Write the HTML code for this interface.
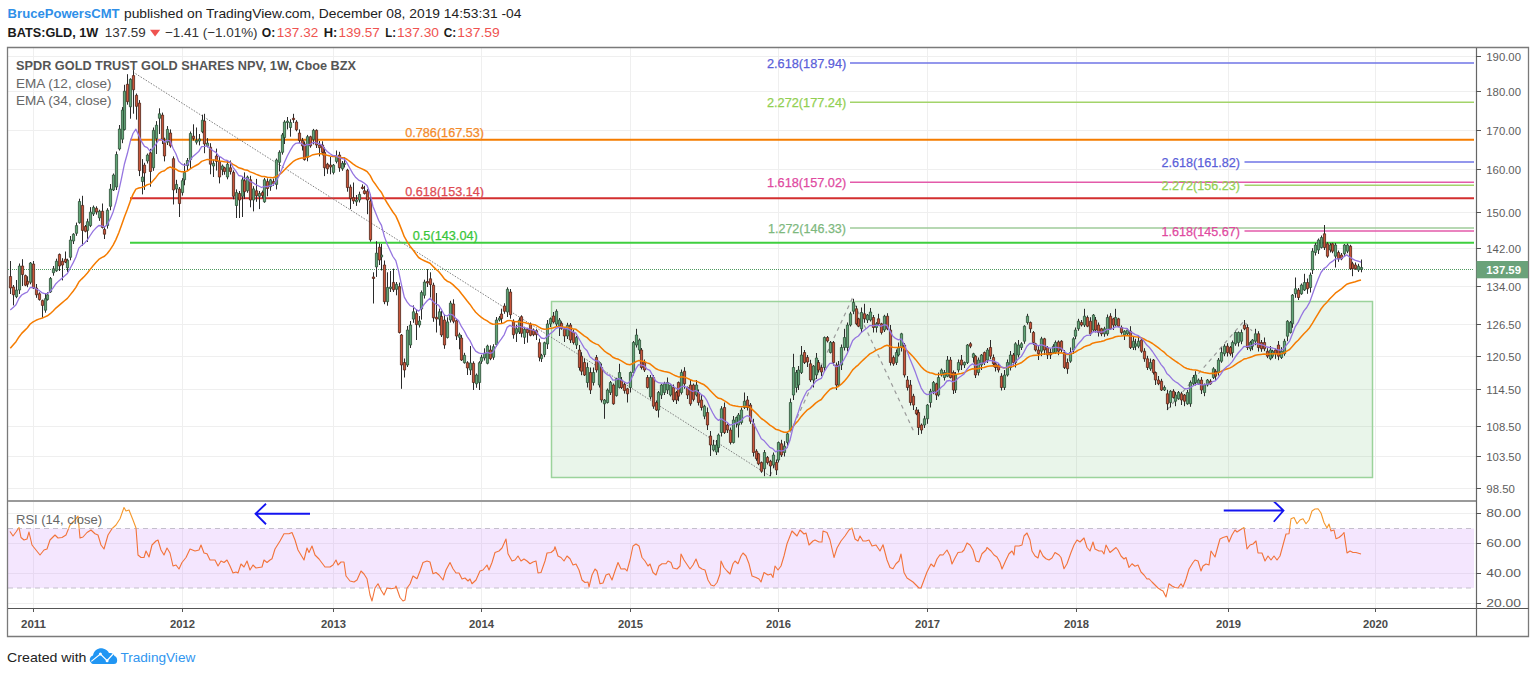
<!DOCTYPE html>
<html><head><meta charset="utf-8"><title>GLD chart</title>
<style>html,body{margin:0;padding:0;background:#fff;width:1536px;height:676px;overflow:hidden;position:relative;font-family:"Liberation Sans",sans-serif}</style>
</head><body>
<svg width="1536" height="676" viewBox="0 0 1536 676" style="position:absolute;left:0;top:0">
<defs><clipPath id="pc"><rect x="8" y="48" width="1468" height="452"/></clipPath><clipPath id="rc"><rect x="8" y="502" width="1468" height="106"/></clipPath></defs>
<rect width="1536" height="676" fill="#ffffff"/>
<path d="M8 56.5H1476M8 91.5H1476M8 130.5H1476M8 169.5H1476M8 212.5H1476M8 248.5H1476M8 286.5H1476M8 324.5H1476M8 356.5H1476M8 389.5H1476M8 426.5H1476M8 456.5H1476M8 488.5H1476M8 513.5H1476M8 543.5H1476M8 573.5H1476M8 603.5H1476M33.5 48V500M33.5 502V608M182.5 48V500M182.5 502V608M333.5 48V500M333.5 502V608M481.5 48V500M481.5 502V608M630.5 48V500M630.5 502V608M778.5 48V500M778.5 502V608M927.5 48V500M927.5 502V608M1076.5 48V500M1076.5 502V608M1228.5 48V500M1228.5 502V608M1375.5 48V500M1375.5 502V608" stroke="#efefef" stroke-width="1" fill="none"/>
<rect x="551.5" y="301.5" width="821" height="176" fill="rgba(76,175,80,0.12)" stroke="#9bd39b" stroke-width="1.5"/>
<rect x="8" y="528.5" width="1466" height="59.5" fill="rgba(200,130,250,0.2)"/>
<path d="M8 528.5H1474M8 588H1474" stroke="#c4bfcc" stroke-width="1" stroke-dasharray="5,4" fill="none"/>
<path d="M130 139.75H1474" stroke="#f57c00" stroke-width="2" fill="none"/>
<path d="M130 198.2H1474" stroke="#d32f2f" stroke-width="2" fill="none"/>
<path d="M130 242.8H1474" stroke="#3fcf3f" stroke-width="2" fill="none"/>
<path d="M850 63H1474" stroke="#6f74e6" stroke-width="1.5" fill="none"/>
<path d="M850 102.2H1474" stroke="#a3d46a" stroke-width="1.5" fill="none"/>
<path d="M850 182.2H1474" stroke="#e35aaa" stroke-width="1.5" fill="none"/>
<path d="M850 228H1474" stroke="#9fcb9a" stroke-width="1.5" fill="none"/>
<path d="M1244.5 162H1474" stroke="#6f74e6" stroke-width="1.5" fill="none"/>
<path d="M1244.5 185.2H1474" stroke="#a3d46a" stroke-width="1.5" fill="none"/>
<path d="M1244.5 231H1474" stroke="#e35aaa" stroke-width="1.5" fill="none"/>
<path d="M8 269.5H1474" stroke="#4f9a5f" stroke-width="1" stroke-dasharray="1,1" fill="none"/>
<path d="M133 72L770 476" stroke="#7d7d7d" stroke-width="1" stroke-dasharray="1.5,1.5" fill="none"/>
<path d="M770 476L852 299L914 432" stroke="#9a9a9a" stroke-width="1.2" stroke-dasharray="4,4" fill="none"/>
<path d="M1167 410L1244 321L1252 331" stroke="#9a9a9a" stroke-width="1.2" stroke-dasharray="4,4" fill="none"/>
<g clip-path="url(#pc)">
<path d="M10.5 261.0V294.0M13.5 285.0V305.4M16.5 280.0V298.2M19.5 263.5V294.0M22.5 259.2V286.0M25.5 274.6V286.2M27.5 276.3V287.2M30.5 262.0V284.3M33.5 261.0V289.0M36.5 284.0V297.8M39.5 292.3V300.6M42.5 299.6V317.9M45.5 294.0V312.7M47.5 292.3V300.6M50.5 277.0V292.9M53.5 266.0V275.7M56.5 258.7V271.8M59.5 253.5V271.0M62.5 258.2V280.4M65.5 251.5V263.1M67.5 258.7V271.9M70.5 236.0V260.3M73.5 233.2V244.0M76.5 222.6V235.8M79.5 198.7V223.7M82.5 195.8V245.8M85.5 225.0V232.3M87.5 218.7V242.0M90.5 207.1V227.1M93.5 205.5V216.0M96.5 206.3V214.6M99.5 209.7V220.9M102.5 203.5V228.5M104.5 226.4V239.0M107.5 208.2V228.6M110.5 184.0V210.3M113.5 173.5V191.0M116.5 151.5V190.0M119.5 125.0V150.5M122.5 107.1V143.2M124.5 84.8V130.5M127.5 74.2V104.7M130.5 78.3V118.7M133.5 70.1V113.7M136.5 93.5V119.6M139.5 100.1V176.1M142.5 159.1V194.4M144.5 162.8V189.9M147.5 153.5V163.5M150.5 148.8V186.7M153.5 127.5V170.8M156.5 121.1V154.0M159.5 108.3V134.0M162.5 112.6V144.0M164.5 137.7V161.4M167.5 126.1V145.0M170.5 129.4V147.7M173.5 156.4V204.5M176.5 179.8V193.1M179.5 187.0V217.0M182.5 178.2V195.6M184.5 163.3V185.3M187.5 158.0V170.1M190.5 131.5V168.8M193.5 124.3V140.5M196.5 127.5V144.5M199.5 134.0V145.4M202.5 114.7V133.2M204.5 113.8V153.2M207.5 138.1V147.4M210.5 143.2V174.3M213.5 159.6V177.0M216.5 148.6V170.6M219.5 156.4V183.4M222.5 164.5V175.2M224.5 166.8V174.7M227.5 160.5V179.3M230.5 160.5V174.5M233.5 170.4V199.3M236.5 189.4V218.0M239.5 191.0V218.0M242.5 176.6V217.0M244.5 172.4V199.0M247.5 175.6V192.8M250.5 175.8V207.3M253.5 186.2V211.4M256.5 178.9V201.8M259.5 191.0V209.1M262.5 190.6V198.4M264.5 177.9V202.8M267.5 178.4V196.3M270.5 178.8V190.8M273.5 178.6V185.9M276.5 158.5V189.4M279.5 150.3V171.5M282.5 133.0V154.6M284.5 120.2V144.0M287.5 117.0V129.4M290.5 119.3V136.7M293.5 113.8V122.9M296.5 120.2V131.3M299.5 129.4V143.1M302.5 137.9V150.5M304.5 141.5V160.6M307.5 134.9V161.3M310.5 135.7V147.7M313.5 128.9V144.4M316.5 129.4V148.0M319.5 141.0V156.4M322.5 141.3V155.3M324.5 147.3V176.1M327.5 162.8V173.8M330.5 157.0V174.3M333.5 164.0V174.4M336.5 150.5V163.4M339.5 151.8V171.8M342.5 161.0V170.8M344.5 157.3V167.5M347.5 168.8V191.7M350.5 184.6V209.1M353.5 182.5V203.9M356.5 195.0V205.9M359.5 191.7V202.5M362.5 184.4V189.5M364.5 185.8V194.5M367.5 189.2V214.2M370.5 194.4V241.7M373.5 272.3V303.5M376.5 241.2V276.9M379.5 243.5V265.0M381.5 244.0V270.5M384.5 260.5V304.2M387.5 272.3V305.7M390.5 271.0V292.0M393.5 268.7V292.0M396.5 282.0V295.3M399.5 282.6V333.5M401.5 334.0V388.8M404.5 358.5V377.5M407.5 326.0V367.0M410.5 321.0V348.0M413.5 305.4V322.8M416.5 309.6V340.0M419.5 316.0V327.5M421.5 290.5V319.6M424.5 279.7V298.5M427.5 269.1V287.0M430.5 272.3V297.6M433.5 282.7V321.8M436.5 293.0V332.5M439.5 308.6V325.6M441.5 310.9V337.0M444.5 314.5V348.8M447.5 317.3V338.5M450.5 300.8V322.5M453.5 299.3V323.3M456.5 319.2V340.0M459.5 332.7V349.3M461.5 335.0V361.0M464.5 352.8V363.7M467.5 361.2V375.0M470.5 346.0V375.0M473.5 361.3V390.0M476.5 373.5V387.8M479.5 361.2V390.0M481.5 354.8V363.8M484.5 348.3V360.5M487.5 344.7V364.3M490.5 345.3V360.2M493.5 344.2V359.8M496.5 317.0V346.7M499.5 316.0V321.5M501.5 308.7V323.7M504.5 303.3V313.8M507.5 287.3V317.0M510.5 289.0V318.7M513.5 319.3V338.7M516.5 324.7V342.0M519.5 317.5V334.0M521.5 315.3V337.3M524.5 326.8V344.0M527.5 327.8V342.7M530.5 322.5V336.3M533.5 328.5V336.2M536.5 329.2V340.0M539.5 338.7V361.3M541.5 353.8V362.0M544.5 341.7V357.2M547.5 320.0V349.0M550.5 317.5V327.0M553.5 312.0V323.5M556.5 309.3V326.0M559.5 318.0V336.0M561.5 321.3V329.7M564.5 327.8V342.0M567.5 322.8V339.0M570.5 323.0V343.0M573.5 329.5V344.5M576.5 336.0V349.0M579.5 345.0V370.5M581.5 352.2V375.2M584.5 358.5V376.0M587.5 362.5V387.5M590.5 367.5V394.0M593.5 367.5V385.5M596.5 355.0V372.5M599.5 361.5V387.5M601.5 363.5V402.5M604.5 399.0V418.8M607.5 388.5V403.5M610.5 381.0V395.0M613.5 383.5V404.8M616.5 377.8V396.6M619.5 363.8V388.5M621.5 377.0V389.0M624.5 382.4V393.6M627.5 387.8V402.5M630.5 371.5V392.5M633.5 341.0V375.5M636.5 328.8V347.5M639.5 338.5V354.0M641.5 348.0V369.5M644.5 359.5V372.0M647.5 375.0V388.5M650.5 375.0V399.4M653.5 375.0V408.8M656.5 400.5V411.0M658.5 391.0V417.5M661.5 384.0V399.0M664.5 381.8V395.0M667.5 377.5V394.0M670.5 384.0V396.5M673.5 384.5V402.0M676.5 391.0V404.0M678.5 381.5V401.2M681.5 369.5V394.5M684.5 367.2V388.8M687.5 386.5V399.0M690.5 380.0V405.8M693.5 383.5V401.4M696.5 380.0V396.5M698.5 389.5V405.5M701.5 395.0V410.5M704.5 404.8V419.2M707.5 407.5V430.0M710.5 431.0V456.0M713.5 440.0V451.5M716.5 440.0V455.0M718.5 433.5V452.5M721.5 406.2V436.5M724.5 402.5V434.0M727.5 423.5V433.0M730.5 427.5V444.5M733.5 416.0V443.5M736.5 416.5V427.5M738.5 413.0V437.5M741.5 407.5V424.5M744.5 392.5V409.0M747.5 396.0V410.5M750.5 403.0V423.8M753.5 418.8V456.5M756.5 449.2V460.8M758.5 452.8V465.2M761.5 461.5V472.8M764.5 450.0V476.2M767.5 456.0V464.5M770.5 459.8V476.2M773.5 452.5V468.0M776.5 459.5V475.0M778.5 441.5V462.5M781.5 439.8V457.0M784.5 441.2V456.5M787.5 432.8V447.5M790.5 398.5V431.0M793.5 353.8V400.0M796.5 370.0V392.5M798.5 366.0V390.0M801.5 346.0V374.0M804.5 350.0V364.0M807.5 355.0V367.0M810.5 359.8V382.0M813.5 365.0V387.5M816.5 353.0V379.0M818.5 360.0V372.5M821.5 365.0V376.0M824.5 336.5V371.5M827.5 336.0V342.5M830.5 341.0V353.5M833.5 341.0V365.5M836.5 362.5V390.0M838.5 361.0V386.5M841.5 344.5V370.0M844.5 328.8V350.5M847.5 322.5V351.5M850.5 311.8V326.5M853.5 298.8V314.2M856.5 305.8V325.2M858.5 317.8V327.2M861.5 307.5V332.8M864.5 303.8V322.8M867.5 314.0V323.0M870.5 308.0V321.5M873.5 315.0V332.5M876.5 322.2V332.5M878.5 313.8V325.2M881.5 322.8V334.5M884.5 314.8V332.0M887.5 313.2V330.2M890.5 325.0V365.5M893.5 355.5V365.8M896.5 349.5V365.0M898.5 342.5V356.5M901.5 332.8V351.5M904.5 343.0V377.5M907.5 376.0V390.5M910.5 380.0V405.5M913.5 393.8V410.0M916.5 407.0V415.2M918.5 409.5V435.0M921.5 423.5V433.8M924.5 415.8V428.0M927.5 404.0V423.8M930.5 388.8V407.5M933.5 381.0V394.2M936.5 382.8V400.0M938.5 372.5V396.5M941.5 368.5V376.5M944.5 370.0V380.5M947.5 356.0V377.2M950.5 357.0V378.5M953.5 370.5V394.0M955.5 372.0V393.0M958.5 359.5V372.5M961.5 355.0V370.0M964.5 361.5V368.0M967.5 344.0V364.0M970.5 342.2V348.2M973.5 352.8V362.5M975.5 355.2V378.0M978.5 357.5V375.5M981.5 354.0V370.0M984.5 351.5V365.0M987.5 348.0V363.0M990.5 340.0V359.2M993.5 354.5V366.8M995.5 362.2V371.5M998.5 363.0V372.5M1001.5 373.2V390.5M1004.5 370.0V390.0M1007.5 359.5V376.5M1010.5 351.0V370.5M1013.5 353.0V365.5M1015.5 342.2V367.5M1018.5 340.0V357.5M1021.5 342.2V350.0M1024.5 325.2V343.8M1027.5 313.8V324.5M1030.5 321.5V332.8M1033.5 331.0V345.0M1035.5 342.8V351.5M1038.5 346.0V360.0M1041.5 336.8V356.2M1044.5 337.8V355.0M1047.5 346.0V359.0M1050.5 348.5V359.0M1053.5 344.2V354.0M1055.5 340.5V354.0M1058.5 340.4V355.2M1061.5 340.2V352.5M1064.5 350.0V369.0M1067.5 358.5V373.8M1070.5 347.5V362.8M1073.5 337.2V354.0M1075.5 327.5V339.2M1078.5 318.8V330.8M1081.5 320.0V326.5M1084.5 308.8V327.0M1087.5 315.5V327.2M1090.5 317.2V335.8M1093.5 314.0V332.0M1095.5 317.0V332.5M1098.5 322.5V336.5M1101.5 327.8V336.2M1104.5 326.8V336.8M1107.5 314.5V335.8M1110.5 313.2V329.8M1113.5 317.8V330.0M1115.5 308.8V326.5M1118.5 317.8V327.2M1121.5 325.5V334.5M1124.5 330.2V340.0M1127.5 328.5V335.8M1130.5 326.2V349.0M1133.5 336.2V350.0M1135.5 338.8V350.2M1138.5 336.2V348.2M1141.5 337.5V352.8M1144.5 348.2V361.8M1147.5 355.8V370.0M1150.5 358.5V370.8M1153.5 359.0V374.5M1155.5 371.5V385.0M1158.5 376.0V385.2M1161.5 378.8V391.0M1164.5 385.5V391.0M1167.5 389.8V410.0M1170.5 390.2V407.5M1173.5 389.2V398.5M1175.5 392.0V406.2M1178.5 391.0V399.8M1181.5 391.8V405.0M1184.5 394.0V406.2M1187.5 390.0V404.8M1190.5 380.5V406.8M1193.5 375.0V385.8M1195.5 371.2V385.5M1198.5 378.5V384.8M1201.5 377.0V394.0M1204.5 383.5V396.2M1207.5 379.0V386.5M1210.5 379.2V384.8M1213.5 367.2V379.0M1215.5 369.2V380.2M1218.5 358.0V375.5M1221.5 347.5V362.8M1224.5 344.2V356.2M1227.5 343.2V356.5M1230.5 346.0V355.8M1232.5 340.5V357.5M1235.5 331.5V345.8M1238.5 331.5V346.5M1241.5 329.5V344.2M1244.5 320.0V330.2M1247.5 324.5V350.0M1250.5 341.0V351.2M1252.5 339.0V350.2M1255.5 328.8V345.2M1258.5 331.2V351.5M1261.5 340.0V351.8M1264.5 337.5V351.2M1267.5 348.2V358.2M1270.5 346.0V360.2M1272.5 349.8V358.2M1275.5 348.5V358.8M1278.5 341.0V360.2M1281.5 347.2V359.0M1284.5 338.8V355.8M1287.5 320.2V341.2M1290.5 321.0V333.5M1292.5 294.0V327.8M1295.5 277.5V297.8M1298.5 288.0V300.0M1301.5 283.5V294.8M1304.5 273.8V291.0M1307.5 278.5V293.8M1310.5 272.5V292.5M1312.5 248.2V274.0M1315.5 243.0V255.5M1318.5 238.5V254.0M1321.5 235.5V248.5M1324.5 225.0V250.0M1327.5 242.2V257.8M1330.5 243.0V252.5M1332.5 242.8V253.2M1335.5 243.0V267.5M1338.5 250.5V261.8M1341.5 253.0V260.2M1344.5 244.0V255.8M1347.5 243.5V253.2M1350.5 244.8V269.8M1352.5 261.8V276.2M1355.5 262.5V269.8M1358.5 263.8V272.0M1361.5 259.5V272.3" stroke="#2b2b2b" stroke-width="1" fill="none"/>
<path d="M15.4 290.0h2.2V296.7h-2.2ZM18.4 266.0h2.2V290.0h-2.2ZM29.4 263.0h2.2V282.3h-2.2ZM44.4 298.7h2.2V310.2h-2.2ZM46.4 294.8h2.2V299.6h-2.2ZM49.4 278.5h2.2V291.9h-2.2ZM52.4 268.8h2.2V272.7h-2.2ZM55.4 261.2h2.2V270.8h-2.2ZM66.4 260.2h2.2V267.9h-2.2ZM69.4 240.0h2.2V257.3h-2.2ZM72.4 234.2h2.2V241.0h-2.2ZM75.4 225.6h2.2V233.3h-2.2ZM78.4 201.5h2.2V222.7h-2.2ZM86.4 221.7h2.2V230.4h-2.2ZM89.4 212.1h2.2V225.6h-2.2ZM92.4 207.3h2.2V214.0h-2.2ZM98.4 211.2h2.2V217.9h-2.2ZM106.4 210.2h2.2V225.6h-2.2ZM109.4 189.0h2.2V206.3h-2.2ZM112.4 175.0h2.2V190.0h-2.2ZM115.4 154.5h2.2V187.0h-2.2ZM118.4 129.0h2.2V149.0h-2.2ZM121.4 110.1h2.2V139.2h-2.2ZM123.4 91.2h2.2V129.5h-2.2ZM129.4 79.3h2.2V106.8h-2.2ZM141.4 177.0h2.2V181.6h-2.2ZM146.4 155.0h2.2V161.0h-2.2ZM152.4 130.3h2.2V167.8h-2.2ZM155.4 125.2h2.2V138.5h-2.2ZM158.4 113.8h2.2V118.3h-2.2ZM166.4 129.4h2.2V142.2h-2.2ZM175.4 184.4h2.2V189.0h-2.2ZM181.4 180.7h2.2V192.6h-2.2ZM183.4 172.4h2.2V179.8h-2.2ZM186.4 160.5h2.2V165.6h-2.2ZM189.4 133.5h2.2V159.6h-2.2ZM195.4 140.4h2.2V142.2h-2.2ZM198.4 139.0h2.2V141.0h-2.2ZM201.4 120.2h2.2V131.7h-2.2ZM206.4 143.1h2.2V145.9h-2.2ZM212.4 163.3h2.2V166.0h-2.2ZM221.4 166.0h2.2V169.7h-2.2ZM226.4 164.2h2.2V177.0h-2.2ZM235.4 192.6h2.2V205.5h-2.2ZM241.4 179.8h2.2V196.3h-2.2ZM246.4 177.0h2.2V190.8h-2.2ZM252.4 188.9h2.2V200.0h-2.2ZM258.4 193.5h2.2V196.3h-2.2ZM263.4 179.8h2.2V201.8h-2.2ZM269.4 179.8h2.2V186.7h-2.2ZM275.4 160.0h2.2V184.4h-2.2ZM278.4 152.3h2.2V162.3h-2.2ZM281.4 134.9h2.2V152.3h-2.2ZM283.4 122.0h2.2V137.6h-2.2ZM286.4 121.1h2.2V122.5h-2.2ZM289.4 122.5h2.2V127.5h-2.2ZM306.4 136.7h2.2V157.3h-2.2ZM312.4 130.3h2.2V139.4h-2.2ZM332.4 165.1h2.2V172.4h-2.2ZM335.4 156.0h2.2V161.4h-2.2ZM341.4 163.3h2.2V168.8h-2.2ZM343.4 163.3h2.2V164.5h-2.2ZM355.4 200.0h2.2V201.8h-2.2ZM358.4 194.4h2.2V200.0h-2.2ZM375.4 253.1h2.2V266.9h-2.2ZM380.4 255.0h2.2V257.0h-2.2ZM386.4 287.5h2.2V301.7h-2.2ZM389.4 287.0h2.2V288.5h-2.2ZM395.4 284.3h2.2V289.3h-2.2ZM406.4 330.0h2.2V365.0h-2.2ZM409.4 325.0h2.2V345.0h-2.2ZM412.4 311.8h2.2V319.1h-2.2ZM418.4 321.0h2.2V325.0h-2.2ZM420.4 292.5h2.2V309.0h-2.2ZM423.4 282.0h2.2V295.3h-2.2ZM438.4 311.8h2.2V319.1h-2.2ZM446.4 321.9h2.2V337.5h-2.2ZM449.4 303.1h2.2V320.0h-2.2ZM458.4 334.7h2.2V337.3h-2.2ZM463.4 355.3h2.2V362.7h-2.2ZM469.4 363.0h2.2V370.0h-2.2ZM475.4 375.0h2.2V383.8h-2.2ZM478.4 362.7h2.2V382.5h-2.2ZM480.4 357.3h2.2V361.3h-2.2ZM483.4 353.3h2.2V358.0h-2.2ZM486.4 346.0h2.2V363.3h-2.2ZM492.4 346.7h2.2V357.3h-2.2ZM495.4 320.0h2.2V344.7h-2.2ZM498.4 318.0h2.2V320.0h-2.2ZM506.4 289.3h2.2V312.0h-2.2ZM515.4 328.7h2.2V333.3h-2.2ZM518.4 320.0h2.2V332.0h-2.2ZM523.4 329.3h2.2V337.3h-2.2ZM540.4 355.3h2.2V358.7h-2.2ZM543.4 342.7h2.2V354.7h-2.2ZM546.4 324.0h2.2V344.0h-2.2ZM549.4 318.7h2.2V324.0h-2.2ZM555.4 311.3h2.2V324.0h-2.2ZM558.4 320.0h2.2V326.0h-2.2ZM566.4 325.3h2.2V336.0h-2.2ZM575.4 337.5h2.2V345.0h-2.2ZM586.4 367.5h2.2V382.5h-2.2ZM592.4 372.5h2.2V382.5h-2.2ZM598.4 362.5h2.2V385.0h-2.2ZM603.4 400.0h2.2V403.8h-2.2ZM606.4 390.0h2.2V402.5h-2.2ZM609.4 382.5h2.2V392.5h-2.2ZM615.4 378.8h2.2V395.6h-2.2ZM618.4 372.5h2.2V387.5h-2.2ZM629.4 372.5h2.2V387.5h-2.2ZM632.4 342.5h2.2V372.5h-2.2ZM635.4 335.0h2.2V345.0h-2.2ZM638.4 340.0h2.2V350.0h-2.2ZM649.4 377.5h2.2V396.9h-2.2ZM657.4 392.5h2.2V410.0h-2.2ZM660.4 385.0h2.2V395.0h-2.2ZM663.4 383.8h2.2V392.5h-2.2ZM666.4 382.5h2.2V390.0h-2.2ZM669.4 385.0h2.2V395.0h-2.2ZM680.4 372.5h2.2V392.5h-2.2ZM695.4 385.0h2.2V395.0h-2.2ZM703.4 406.2h2.2V416.2h-2.2ZM712.4 445.0h2.2V450.0h-2.2ZM715.4 445.0h2.2V452.0h-2.2ZM717.4 435.0h2.2V447.5h-2.2ZM720.4 408.8h2.2V432.5h-2.2ZM732.4 420.0h2.2V442.5h-2.2ZM735.4 417.5h2.2V422.5h-2.2ZM737.4 415.0h2.2V425.0h-2.2ZM740.4 410.0h2.2V422.5h-2.2ZM743.4 401.2h2.2V407.5h-2.2ZM763.4 452.5h2.2V468.8h-2.2ZM772.4 455.0h2.2V465.0h-2.2ZM777.4 442.5h2.2V460.0h-2.2ZM783.4 446.2h2.2V452.5h-2.2ZM786.4 433.8h2.2V442.5h-2.2ZM789.4 402.5h2.2V430.0h-2.2ZM792.4 367.5h2.2V395.0h-2.2ZM795.4 372.5h2.2V387.5h-2.2ZM797.4 370.0h2.2V385.0h-2.2ZM800.4 355.0h2.2V372.5h-2.2ZM812.4 366.0h2.2V380.0h-2.2ZM815.4 358.0h2.2V375.0h-2.2ZM823.4 337.5h2.2V367.5h-2.2ZM829.4 342.5h2.2V352.5h-2.2ZM837.4 365.0h2.2V385.0h-2.2ZM840.4 347.5h2.2V365.0h-2.2ZM843.4 337.5h2.2V347.5h-2.2ZM846.4 325.0h2.2V347.5h-2.2ZM849.4 313.8h2.2V325.0h-2.2ZM852.4 302.5h2.2V311.2h-2.2ZM860.4 312.5h2.2V328.8h-2.2ZM866.4 315.0h2.2V320.0h-2.2ZM869.4 312.0h2.2V320.0h-2.2ZM875.4 323.8h2.2V327.5h-2.2ZM883.4 316.2h2.2V330.0h-2.2ZM895.4 352.5h2.2V362.5h-2.2ZM897.4 347.5h2.2V355.0h-2.2ZM900.4 333.8h2.2V347.5h-2.2ZM923.4 418.8h2.2V425.0h-2.2ZM926.4 405.0h2.2V418.8h-2.2ZM929.4 391.2h2.2V402.5h-2.2ZM932.4 382.5h2.2V391.2h-2.2ZM937.4 377.5h2.2V395.0h-2.2ZM940.4 370.0h2.2V375.0h-2.2ZM943.4 372.5h2.2V377.5h-2.2ZM946.4 360.0h2.2V376.2h-2.2ZM954.4 375.0h2.2V390.0h-2.2ZM957.4 362.5h2.2V370.0h-2.2ZM963.4 362.5h2.2V365.0h-2.2ZM966.4 345.0h2.2V362.5h-2.2ZM972.4 353.8h2.2V357.5h-2.2ZM977.4 360.0h2.2V372.5h-2.2ZM980.4 355.0h2.2V365.0h-2.2ZM986.4 350.0h2.2V360.0h-2.2ZM1003.4 375.0h2.2V387.5h-2.2ZM1006.4 362.5h2.2V375.0h-2.2ZM1009.4 355.0h2.2V367.5h-2.2ZM1014.4 343.8h2.2V362.5h-2.2ZM1017.4 345.0h2.2V355.0h-2.2ZM1020.4 343.8h2.2V347.5h-2.2ZM1023.4 326.2h2.2V341.2h-2.2ZM1026.4 316.2h2.2V322.5h-2.2ZM1040.4 338.8h2.2V351.2h-2.2ZM1052.4 346.2h2.2V352.5h-2.2ZM1054.4 342.5h2.2V352.5h-2.2ZM1069.4 352.5h2.2V361.2h-2.2ZM1072.4 338.8h2.2V350.0h-2.2ZM1074.4 330.0h2.2V336.2h-2.2ZM1077.4 321.2h2.2V328.8h-2.2ZM1083.4 316.2h2.2V325.0h-2.2ZM1092.4 315.0h2.2V330.0h-2.2ZM1103.4 328.8h2.2V333.8h-2.2ZM1106.4 317.5h2.2V333.8h-2.2ZM1114.4 317.5h2.2V325.0h-2.2ZM1123.4 331.2h2.2V335.0h-2.2ZM1126.4 330.0h2.2V333.8h-2.2ZM1132.4 341.2h2.2V347.5h-2.2ZM1134.4 343.8h2.2V346.2h-2.2ZM1137.4 341.2h2.2V346.2h-2.2ZM1149.4 362.5h2.2V368.8h-2.2ZM1163.4 387.5h2.2V390.0h-2.2ZM1169.4 391.2h2.2V402.5h-2.2ZM1174.4 395.0h2.2V401.2h-2.2ZM1177.4 392.5h2.2V398.8h-2.2ZM1186.4 392.5h2.2V403.8h-2.2ZM1189.4 382.5h2.2V403.8h-2.2ZM1192.4 377.5h2.2V383.8h-2.2ZM1194.4 375.0h2.2V382.5h-2.2ZM1197.4 380.0h2.2V383.8h-2.2ZM1203.4 385.0h2.2V392.5h-2.2ZM1206.4 380.0h2.2V385.0h-2.2ZM1212.4 368.8h2.2V377.5h-2.2ZM1217.4 360.0h2.2V372.5h-2.2ZM1220.4 352.5h2.2V361.2h-2.2ZM1223.4 346.2h2.2V353.8h-2.2ZM1231.4 342.5h2.2V352.5h-2.2ZM1234.4 332.5h2.2V343.8h-2.2ZM1237.4 332.5h2.2V342.5h-2.2ZM1240.4 332.5h2.2V341.2h-2.2ZM1249.4 342.5h2.2V348.8h-2.2ZM1251.4 340.0h2.2V346.2h-2.2ZM1254.4 333.8h2.2V341.2h-2.2ZM1269.4 350.0h2.2V358.8h-2.2ZM1271.4 351.2h2.2V356.2h-2.2ZM1280.4 351.2h2.2V357.5h-2.2ZM1283.4 341.2h2.2V353.8h-2.2ZM1286.4 321.2h2.2V336.2h-2.2ZM1289.4 322.5h2.2V332.5h-2.2ZM1291.4 295.0h2.2V323.8h-2.2ZM1294.4 288.8h2.2V293.8h-2.2ZM1300.4 285.0h2.2V293.8h-2.2ZM1303.4 282.5h2.2V290.0h-2.2ZM1309.4 275.0h2.2V287.5h-2.2ZM1311.4 251.2h2.2V270.0h-2.2ZM1314.4 245.0h2.2V252.5h-2.2ZM1317.4 240.0h2.2V250.0h-2.2ZM1320.4 237.5h2.2V247.5h-2.2ZM1329.4 245.0h2.2V250.0h-2.2ZM1334.4 245.0h2.2V256.2h-2.2ZM1343.4 245.0h2.2V253.8h-2.2ZM1346.4 245.0h2.2V251.2h-2.2ZM1357.4 266.2h2.2V270.0h-2.2ZM1360.4 267.5h2.2V269.3h-2.2Z" fill="#62a577" stroke="#2c4f36" stroke-width="0.8"/>
<path d="M9.4 276.5h2.2V288.0h-2.2ZM12.4 287.0h2.2V294.8h-2.2ZM21.4 266.0h2.2V274.6h-2.2ZM24.4 275.6h2.2V285.2h-2.2ZM26.4 281.3h2.2V284.2h-2.2ZM32.4 264.0h2.2V288.0h-2.2ZM35.4 288.0h2.2V294.8h-2.2ZM38.4 293.8h2.2V299.6h-2.2ZM41.4 300.6h2.2V305.4h-2.2ZM58.4 254.4h2.2V266.0h-2.2ZM61.4 261.2h2.2V265.0h-2.2ZM64.4 259.2h2.2V262.1h-2.2ZM81.4 205.4h2.2V230.4h-2.2ZM84.4 226.5h2.2V231.3h-2.2ZM95.4 208.3h2.2V212.1h-2.2ZM101.4 211.2h2.2V227.5h-2.2ZM103.4 229.4h2.2V234.2h-2.2ZM126.4 84.3h2.2V101.7h-2.2ZM132.4 75.6h2.2V89.8h-2.2ZM135.4 95.3h2.2V106.3h-2.2ZM138.4 103.1h2.2V170.6h-2.2ZM143.4 165.1h2.2V172.9h-2.2ZM149.4 152.8h2.2V171.5h-2.2ZM161.4 115.1h2.2V139.4h-2.2ZM163.4 142.7h2.2V156.0h-2.2ZM169.4 133.0h2.2V145.9h-2.2ZM172.4 158.7h2.2V189.9h-2.2ZM178.4 189.0h2.2V203.6h-2.2ZM192.4 136.2h2.2V138.5h-2.2ZM203.4 121.1h2.2V144.0h-2.2ZM209.4 147.2h2.2V164.2h-2.2ZM215.4 156.0h2.2V161.4h-2.2ZM218.4 161.4h2.2V177.0h-2.2ZM223.4 167.8h2.2V171.5h-2.2ZM229.4 167.8h2.2V171.5h-2.2ZM232.4 172.4h2.2V196.3h-2.2ZM238.4 193.5h2.2V200.0h-2.2ZM243.4 180.7h2.2V191.7h-2.2ZM249.4 179.8h2.2V200.0h-2.2ZM255.4 190.8h2.2V195.8h-2.2ZM261.4 192.6h2.2V195.4h-2.2ZM266.4 181.6h2.2V188.5h-2.2ZM272.4 181.6h2.2V183.4h-2.2ZM292.4 118.3h2.2V119.7h-2.2ZM295.4 122.0h2.2V129.8h-2.2ZM298.4 133.0h2.2V140.4h-2.2ZM301.4 140.4h2.2V145.9h-2.2ZM303.4 144.0h2.2V159.6h-2.2ZM309.4 136.7h2.2V145.9h-2.2ZM315.4 130.3h2.2V145.0h-2.2ZM318.4 145.0h2.2V147.7h-2.2ZM321.4 145.0h2.2V152.3h-2.2ZM323.4 152.3h2.2V167.8h-2.2ZM326.4 164.2h2.2V168.8h-2.2ZM329.4 165.0h2.2V167.0h-2.2ZM338.4 155.0h2.2V167.8h-2.2ZM346.4 170.1h2.2V187.6h-2.2ZM349.4 187.1h2.2V198.6h-2.2ZM352.4 197.7h2.2V200.9h-2.2ZM361.4 187.1h2.2V188.5h-2.2ZM363.4 190.8h2.2V193.5h-2.2ZM366.4 191.2h2.2V200.0h-2.2ZM369.4 201.0h2.2V239.8h-2.2ZM372.4 277.0h2.2V278.5h-2.2ZM378.4 247.2h2.2V260.0h-2.2ZM383.4 265.0h2.2V301.7h-2.2ZM392.4 282.4h2.2V289.8h-2.2ZM398.4 286.6h2.2V332.5h-2.2ZM400.4 335.0h2.2V365.0h-2.2ZM403.4 362.5h2.2V370.0h-2.2ZM415.4 313.6h2.2V324.6h-2.2ZM426.4 281.5h2.2V283.0h-2.2ZM429.4 278.8h2.2V284.7h-2.2ZM432.4 285.2h2.2V317.8h-2.2ZM435.4 317.3h2.2V319.0h-2.2ZM440.4 316.4h2.2V335.0h-2.2ZM443.4 320.0h2.2V345.0h-2.2ZM452.4 304.0h2.2V321.3h-2.2ZM455.4 320.7h2.2V336.0h-2.2ZM460.4 338.0h2.2V360.0h-2.2ZM466.4 362.7h2.2V368.0h-2.2ZM472.4 363.3h2.2V382.5h-2.2ZM489.4 350.0h2.2V358.7h-2.2ZM500.4 314.0h2.2V318.7h-2.2ZM503.4 306.0h2.2V311.3h-2.2ZM509.4 292.0h2.2V314.7h-2.2ZM512.4 321.3h2.2V334.7h-2.2ZM520.4 316.7h2.2V333.3h-2.2ZM526.4 329.3h2.2V332.7h-2.2ZM529.4 324.0h2.2V335.3h-2.2ZM532.4 330.0h2.2V334.7h-2.2ZM535.4 330.7h2.2V334.7h-2.2ZM538.4 342.7h2.2V357.3h-2.2ZM552.4 316.0h2.2V322.0h-2.2ZM560.4 323.3h2.2V328.7h-2.2ZM563.4 329.3h2.2V336.0h-2.2ZM569.4 325.0h2.2V340.0h-2.2ZM572.4 332.5h2.2V342.5h-2.2ZM578.4 350.0h2.2V367.5h-2.2ZM580.4 356.2h2.2V371.2h-2.2ZM583.4 362.5h2.2V375.0h-2.2ZM589.4 372.5h2.2V390.0h-2.2ZM595.4 357.5h2.2V370.0h-2.2ZM600.4 367.5h2.2V400.0h-2.2ZM612.4 385.0h2.2V403.8h-2.2ZM620.4 380.0h2.2V387.5h-2.2ZM623.4 384.4h2.2V390.6h-2.2ZM626.4 388.8h2.2V393.8h-2.2ZM640.4 350.0h2.2V367.5h-2.2ZM643.4 362.5h2.2V370.0h-2.2ZM646.4 377.5h2.2V387.5h-2.2ZM652.4 377.5h2.2V406.2h-2.2ZM655.4 402.5h2.2V410.0h-2.2ZM672.4 387.5h2.2V400.0h-2.2ZM675.4 392.5h2.2V400.0h-2.2ZM677.4 382.5h2.2V396.2h-2.2ZM683.4 371.2h2.2V383.8h-2.2ZM686.4 387.5h2.2V395.0h-2.2ZM689.4 385.0h2.2V403.8h-2.2ZM692.4 385.0h2.2V399.4h-2.2ZM697.4 392.5h2.2V402.5h-2.2ZM700.4 400.0h2.2V407.5h-2.2ZM706.4 412.5h2.2V425.0h-2.2ZM709.4 436.0h2.2V445.0h-2.2ZM723.4 407.5h2.2V432.5h-2.2ZM726.4 425.0h2.2V430.0h-2.2ZM729.4 430.0h2.2V442.5h-2.2ZM746.4 400.0h2.2V407.5h-2.2ZM749.4 405.0h2.2V421.2h-2.2ZM752.4 423.8h2.2V452.5h-2.2ZM755.4 451.2h2.2V458.8h-2.2ZM757.4 453.8h2.2V463.8h-2.2ZM760.4 462.5h2.2V471.2h-2.2ZM766.4 457.5h2.2V462.5h-2.2ZM769.4 461.2h2.2V466.0h-2.2ZM775.4 462.5h2.2V470.0h-2.2ZM780.4 443.8h2.2V455.0h-2.2ZM803.4 352.5h2.2V362.5h-2.2ZM806.4 357.5h2.2V362.0h-2.2ZM809.4 363.8h2.2V380.0h-2.2ZM817.4 362.5h2.2V370.0h-2.2ZM820.4 367.5h2.2V372.0h-2.2ZM826.4 337.5h2.2V341.0h-2.2ZM832.4 342.5h2.2V362.5h-2.2ZM835.4 365.0h2.2V385.0h-2.2ZM855.4 308.8h2.2V323.8h-2.2ZM857.4 318.8h2.2V326.2h-2.2ZM863.4 313.8h2.2V318.8h-2.2ZM872.4 317.5h2.2V327.5h-2.2ZM877.4 318.8h2.2V323.8h-2.2ZM880.4 323.8h2.2V332.5h-2.2ZM886.4 316.2h2.2V328.8h-2.2ZM889.4 330.0h2.2V362.5h-2.2ZM892.4 357.5h2.2V363.8h-2.2ZM903.4 345.0h2.2V375.0h-2.2ZM906.4 380.0h2.2V387.5h-2.2ZM909.4 385.0h2.2V402.5h-2.2ZM912.4 396.2h2.2V405.0h-2.2ZM915.4 410.0h2.2V413.8h-2.2ZM917.4 412.5h2.2V427.5h-2.2ZM920.4 425.0h2.2V430.0h-2.2ZM935.4 383.8h2.2V395.0h-2.2ZM949.4 360.0h2.2V377.5h-2.2ZM952.4 372.5h2.2V390.0h-2.2ZM960.4 360.0h2.2V365.0h-2.2ZM969.4 343.8h2.2V346.2h-2.2ZM974.4 356.2h2.2V375.0h-2.2ZM983.4 352.5h2.2V362.5h-2.2ZM989.4 347.5h2.2V356.2h-2.2ZM992.4 357.5h2.2V363.8h-2.2ZM994.4 363.8h2.2V367.5h-2.2ZM997.4 365.0h2.2V370.0h-2.2ZM1000.4 376.2h2.2V387.5h-2.2ZM1012.4 355.0h2.2V362.5h-2.2ZM1029.4 322.5h2.2V328.8h-2.2ZM1032.4 332.5h2.2V342.5h-2.2ZM1034.4 343.8h2.2V350.0h-2.2ZM1037.4 350.0h2.2V353.8h-2.2ZM1043.4 338.8h2.2V350.0h-2.2ZM1046.4 347.5h2.2V355.0h-2.2ZM1049.4 352.5h2.2V355.0h-2.2ZM1057.4 341.9h2.2V351.2h-2.2ZM1060.4 341.2h2.2V350.0h-2.2ZM1063.4 352.5h2.2V367.5h-2.2ZM1066.4 362.5h2.2V368.8h-2.2ZM1080.4 322.5h2.2V325.0h-2.2ZM1086.4 317.5h2.2V326.2h-2.2ZM1089.4 321.2h2.2V333.8h-2.2ZM1094.4 320.0h2.2V330.0h-2.2ZM1097.4 325.0h2.2V332.5h-2.2ZM1100.4 328.8h2.2V333.8h-2.2ZM1109.4 316.2h2.2V328.8h-2.2ZM1112.4 318.8h2.2V325.0h-2.2ZM1117.4 318.8h2.2V326.2h-2.2ZM1120.4 327.5h2.2V332.5h-2.2ZM1129.4 331.2h2.2V347.5h-2.2ZM1140.4 340.0h2.2V351.2h-2.2ZM1143.4 351.2h2.2V358.8h-2.2ZM1146.4 358.8h2.2V367.5h-2.2ZM1152.4 360.0h2.2V372.5h-2.2ZM1154.4 372.5h2.2V380.0h-2.2ZM1157.4 380.0h2.2V383.8h-2.2ZM1160.4 381.2h2.2V390.0h-2.2ZM1166.4 393.8h2.2V403.8h-2.2ZM1172.4 391.2h2.2V397.5h-2.2ZM1180.4 393.8h2.2V400.0h-2.2ZM1183.4 395.0h2.2V401.2h-2.2ZM1200.4 380.0h2.2V390.0h-2.2ZM1209.4 381.2h2.2V383.8h-2.2ZM1214.4 371.2h2.2V376.2h-2.2ZM1226.4 346.2h2.2V352.5h-2.2ZM1229.4 347.5h2.2V353.8h-2.2ZM1243.4 325.0h2.2V328.8h-2.2ZM1246.4 327.5h2.2V347.5h-2.2ZM1257.4 333.8h2.2V347.5h-2.2ZM1260.4 342.5h2.2V348.8h-2.2ZM1263.4 342.5h2.2V348.8h-2.2ZM1266.4 351.2h2.2V356.2h-2.2ZM1274.4 350.0h2.2V353.8h-2.2ZM1277.4 345.0h2.2V356.2h-2.2ZM1297.4 290.0h2.2V297.5h-2.2ZM1306.4 282.5h2.2V288.8h-2.2ZM1323.4 233.8h2.2V247.5h-2.2ZM1326.4 243.8h2.2V256.2h-2.2ZM1331.4 243.8h2.2V251.2h-2.2ZM1337.4 252.5h2.2V258.8h-2.2ZM1340.4 255.0h2.2V258.8h-2.2ZM1349.4 246.2h2.2V268.8h-2.2ZM1351.4 263.8h2.2V268.8h-2.2ZM1354.4 265.0h2.2V268.8h-2.2Z" fill="#c8553a" stroke="#4f2418" stroke-width="0.8"/>
</g>
<polyline points="10.3,348.2 13.1,345.0 16.0,341.7 18.8,337.2 21.7,333.4 24.5,330.6 27.4,327.8 30.2,324.0 33.1,321.8 36.0,320.3 38.8,319.1 41.7,318.3 44.5,317.1 47.4,315.8 50.2,313.7 53.1,311.0 55.9,308.1 58.8,305.6 61.7,303.2 64.5,300.8 67.4,298.4 70.2,294.9 73.1,291.3 75.9,287.4 78.8,282.1 81.6,279.1 84.5,276.2 87.4,273.0 90.2,269.4 93.1,265.7 95.9,262.5 98.8,259.4 101.6,257.6 104.5,256.2 107.3,253.5 110.2,249.6 113.1,245.1 115.9,239.6 118.8,232.8 121.6,225.1 124.5,216.7 127.3,209.5 130.2,201.4 133.0,194.4 135.9,189.1 138.8,188.0 141.6,187.4 144.5,186.5 147.3,184.7 150.2,183.9 153.0,180.8 155.9,177.4 158.8,173.6 161.6,171.6 164.5,170.7 167.3,168.3 170.2,167.0 173.0,168.3 175.9,169.2 178.7,171.1 181.6,171.7 184.5,171.7 187.3,171.1 190.2,168.9 193.0,167.1 195.9,165.5 198.7,164.0 201.6,161.4 204.4,160.4 207.3,159.4 210.2,159.7 213.0,159.9 215.9,160.0 218.7,160.9 221.6,161.2 224.4,161.8 227.3,161.9 230.1,162.5 233.0,164.4 235.9,165.9 238.7,167.8 241.6,168.5 244.4,169.8 247.3,170.2 250.1,171.9 253.0,172.9 255.8,174.1 258.7,175.2 261.6,176.4 264.4,176.6 267.3,177.2 270.1,177.4 273.0,177.7 275.8,176.7 278.7,175.3 281.5,172.9 284.4,169.9 287.3,167.0 290.1,164.4 293.0,161.7 295.8,159.9 298.7,158.7 301.5,158.0 304.4,158.1 307.2,156.9 310.1,156.2 313.0,154.7 315.8,154.2 318.7,153.8 321.5,153.7 324.4,154.5 327.2,155.3 330.1,156.0 332.9,156.5 335.8,156.5 338.7,157.1 341.5,157.5 344.4,157.8 347.2,159.5 350.1,161.6 352.9,163.8 355.8,165.8 358.6,167.4 361.5,168.6 364.4,170.0 367.2,171.7 370.1,175.4 372.9,180.9 375.8,184.8 378.6,188.9 381.5,192.5 384.4,198.3 387.2,203.0 390.1,207.6 392.9,212.0 395.8,215.9 398.6,222.1 401.5,229.4 404.3,236.7 407.2,241.7 410.1,246.2 412.9,249.8 415.8,253.8 418.6,257.5 421.5,259.4 424.3,260.7 427.2,262.0 430.0,263.2 432.9,266.2 435.8,269.1 438.6,271.5 441.5,275.0 444.3,278.8 447.2,281.2 450.0,282.4 452.9,284.6 455.7,287.4 458.6,290.0 461.5,293.8 464.3,297.2 467.2,301.0 470.0,304.4 472.9,308.6 475.7,312.3 478.6,315.0 481.4,317.4 484.3,319.4 487.2,320.9 490.0,323.0 492.9,324.3 495.7,324.1 498.6,323.7 501.4,323.4 504.3,322.7 507.1,320.8 510.0,320.4 512.9,321.2 515.7,321.7 518.6,321.6 521.4,322.2 524.3,322.6 527.1,323.2 530.0,323.9 532.8,324.5 535.7,325.1 538.6,326.9 541.4,328.5 544.3,329.3 547.1,329.0 550.0,328.4 552.8,328.0 555.7,327.0 558.5,326.6 561.4,326.8 564.3,327.3 567.1,327.2 570.0,327.9 572.8,328.7 575.7,329.2 578.5,331.4 581.4,333.6 584.2,335.9 587.1,337.6 590.0,340.5 592.8,342.3 595.7,343.9 598.5,344.9 601.4,347.9 604.2,350.8 607.1,353.0 610.0,354.6 612.8,357.3 615.7,358.5 618.5,359.3 621.4,360.9 624.2,362.6 627.1,364.3 629.9,364.8 632.8,363.5 635.7,361.8 638.5,360.6 641.4,361.0 644.2,361.5 647.1,362.9 649.9,363.8 652.8,366.1 655.6,368.5 658.5,369.9 661.4,370.7 664.2,371.5 667.1,372.1 669.9,372.8 672.8,374.4 675.6,375.8 678.5,376.9 681.3,376.7 684.2,377.1 687.1,378.1 689.9,379.5 692.8,380.7 695.6,380.9 698.5,382.1 701.3,383.5 704.2,384.8 707.0,387.1 709.9,390.2 712.8,393.2 715.6,396.1 718.5,398.3 721.3,398.8 724.2,400.7 727.0,402.4 729.9,404.6 732.7,405.5 735.6,406.1 738.5,406.6 741.3,406.8 744.2,406.5 747.0,406.6 749.9,407.4 752.7,409.9 755.6,412.6 758.4,415.4 761.3,418.5 764.2,420.4 767.0,422.7 769.9,425.1 772.7,426.8 775.6,429.2 778.4,429.9 781.3,431.3 784.1,432.2 787.0,432.3 789.9,430.5 792.7,426.8 795.6,423.5 798.4,420.4 801.3,416.4 804.1,413.2 807.0,410.2 809.8,408.4 812.7,405.9 815.6,403.1 818.4,401.2 821.3,399.5 824.1,395.8 827.0,392.5 829.8,389.5 832.7,388.0 835.6,387.8 838.4,386.5 841.3,384.2 844.1,381.4 847.0,378.1 849.8,374.2 852.7,369.9 855.5,367.2 858.4,364.8 861.3,361.7 864.1,359.1 867.0,356.5 869.8,353.9 872.7,352.4 875.5,350.7 878.4,349.1 881.2,348.2 884.1,346.3 887.0,345.3 889.8,346.3 892.7,347.2 895.5,347.5 898.4,347.5 901.2,346.7 904.1,348.3 906.9,350.5 909.8,353.4 912.7,356.2 915.5,359.4 918.4,363.1 921.2,366.7 924.1,369.6 926.9,371.6 929.8,372.7 932.6,373.2 935.5,374.5 938.4,374.6 941.2,374.4 944.1,374.3 946.9,373.4 949.8,373.7 952.6,374.6 955.5,374.6 958.3,373.9 961.2,373.4 964.1,372.8 966.9,371.2 969.8,369.7 972.6,368.8 975.5,369.1 978.3,368.6 981.2,367.8 984.0,367.5 986.9,366.5 989.8,365.9 992.6,365.8 995.5,365.9 998.3,366.1 1001.2,367.3 1004.0,367.8 1006.9,367.5 1009.7,366.7 1012.6,366.5 1015.5,365.2 1018.3,364.0 1021.2,362.8 1024.0,360.7 1026.9,358.1 1029.7,356.4 1032.6,355.6 1035.5,355.2 1038.3,355.2 1041.2,354.2 1044.0,354.0 1046.9,354.0 1049.7,354.1 1052.6,353.6 1055.4,353.0 1058.3,352.9 1061.2,352.7 1064.0,353.6 1066.9,354.4 1069.7,354.3 1072.6,353.4 1075.4,352.0 1078.3,350.2 1081.1,348.8 1084.0,346.9 1086.9,345.7 1089.7,345.0 1092.6,343.2 1095.4,342.5 1098.3,341.9 1101.1,341.4 1104.0,340.7 1106.8,339.4 1109.7,338.7 1112.6,338.0 1115.4,336.8 1118.3,336.2 1121.1,336.0 1124.0,335.7 1126.8,335.4 1129.7,336.0 1132.5,336.3 1135.4,336.8 1138.3,337.0 1141.1,337.8 1144.0,339.0 1146.8,340.6 1149.7,341.8 1152.5,343.5 1155.4,345.6 1158.2,347.7 1161.1,350.0 1164.0,352.1 1166.8,355.0 1169.7,357.0 1172.5,359.2 1175.4,361.2 1178.2,363.0 1181.1,365.0 1183.9,367.1 1186.8,368.5 1189.7,369.3 1192.5,369.7 1195.4,370.0 1198.2,370.6 1201.1,371.7 1203.9,372.5 1206.8,372.9 1209.6,373.5 1212.5,373.2 1215.4,373.4 1218.2,372.6 1221.1,371.5 1223.9,370.0 1226.8,369.0 1229.6,368.1 1232.5,366.6 1235.3,364.6 1238.2,362.7 1241.1,361.0 1243.9,359.1 1246.8,358.4 1249.6,357.5 1252.5,356.5 1255.3,355.2 1258.2,354.7 1261.1,354.4 1263.9,354.1 1266.8,354.2 1269.6,353.9 1272.5,353.8 1275.3,353.8 1278.2,353.9 1281.0,353.8 1283.9,353.1 1286.8,351.2 1289.6,349.5 1292.5,346.3 1295.3,342.9 1298.2,340.2 1301.0,336.9 1303.9,333.7 1306.7,331.0 1309.6,327.7 1312.5,323.1 1315.3,318.3 1318.2,313.6 1321.0,309.0 1323.9,305.3 1326.7,302.4 1329.6,299.0 1332.4,296.2 1335.3,293.2 1338.2,291.1 1341.0,289.2 1343.9,286.6 1346.7,284.2 1349.6,283.3 1352.4,282.5 1355.3,281.7 1358.1,280.8 1361.0,280.0" fill="none" stroke="#f57c00" stroke-width="1.5" stroke-linejoin="round" clip-path="url(#pc)"/>
<polyline points="10.3,309.9 13.1,307.6 16.0,304.8 18.8,298.7 21.7,295.0 24.5,293.4 27.4,292.0 30.2,287.5 33.1,287.5 36.0,288.7 38.8,290.3 41.7,292.6 44.5,293.6 47.4,293.7 50.2,291.4 53.1,287.9 55.9,283.7 58.8,280.9 61.7,278.5 64.5,275.9 67.4,273.5 70.2,268.2 73.1,262.9 75.9,257.0 78.8,248.1 81.6,245.4 84.5,243.2 87.4,239.8 90.2,235.5 93.1,231.1 95.9,228.1 98.8,225.5 101.6,225.8 104.5,227.1 107.3,224.5 110.2,218.9 113.1,211.9 115.9,202.8 118.8,190.9 121.6,177.8 124.5,163.7 127.3,153.8 130.2,141.8 133.0,133.5 135.9,129.2 138.8,135.4 141.6,141.7 144.5,146.4 147.3,147.7 150.2,151.3 153.0,148.0 155.9,144.5 158.8,139.6 161.6,139.6 164.5,142.1 167.3,140.1 170.2,141.0 173.0,148.3 175.9,153.7 178.7,161.2 181.6,164.1 184.5,165.4 187.3,164.6 190.2,159.8 193.0,156.4 195.9,153.9 198.7,151.6 201.6,146.7 204.4,146.3 207.3,145.8 210.2,148.6 213.0,150.8 215.9,152.4 218.7,156.2 221.6,157.7 224.4,159.8 227.3,160.5 230.1,162.1 233.0,167.3 235.9,171.1 238.7,175.5 241.6,176.1 244.4,178.5 247.3,178.3 250.1,181.6 253.0,182.7 255.8,184.7 258.7,186.0 261.6,187.5 264.4,186.3 267.3,186.6 270.1,185.6 273.0,185.2 275.8,181.3 278.7,176.7 281.5,170.1 284.4,162.5 287.3,156.0 290.1,150.7 293.0,145.8 295.8,143.3 298.7,142.9 301.5,143.4 304.4,145.8 307.2,144.4 310.1,144.6 313.0,142.4 315.8,142.8 318.7,143.6 321.5,144.9 324.4,148.4 327.2,151.5 330.1,153.8 332.9,155.6 335.8,155.6 338.7,157.5 341.5,158.4 344.4,159.1 347.2,163.4 350.1,168.7 352.9,173.6 355.8,177.6 358.6,180.1 361.5,181.4 364.4,183.3 367.2,185.8 370.1,193.8 372.9,206.2 375.8,213.2 378.6,220.2 381.5,225.4 384.4,236.6 387.2,244.2 390.1,250.6 392.9,256.5 395.8,260.7 398.6,271.2 401.5,284.8 404.3,297.2 407.2,302.2 410.1,305.6 412.9,306.6 415.8,309.3 418.6,311.1 421.5,308.2 424.3,304.1 427.2,300.8 430.0,298.3 432.9,301.3 435.8,304.0 438.6,305.2 441.5,309.7 444.3,315.0 447.2,316.0 450.0,314.0 452.9,315.1 455.7,318.3 458.6,320.8 461.5,326.7 464.3,331.0 467.2,336.6 470.0,340.6 472.9,346.8 475.7,351.1 478.6,352.9 481.4,353.6 484.3,353.5 487.2,352.4 490.0,353.3 492.9,352.3 495.7,347.2 498.6,342.6 501.4,338.9 504.3,334.6 507.1,327.4 510.0,325.4 512.9,326.9 515.7,327.1 518.6,326.0 521.4,327.1 524.3,327.5 527.1,328.3 530.0,329.4 532.8,330.2 535.7,330.9 538.6,334.9 541.4,338.0 544.3,338.7 547.1,336.4 550.0,333.7 552.8,331.8 555.7,328.6 558.5,327.3 561.4,327.5 564.3,328.8 567.1,328.3 570.0,330.1 572.8,332.0 575.7,332.8 578.5,338.0 581.4,343.0 584.2,347.9 587.1,350.8 590.0,356.7 592.8,359.1 595.7,360.8 598.5,361.0 601.4,366.9 604.2,371.9 607.1,374.6 610.0,375.8 612.8,380.1 615.7,379.9 618.5,378.7 621.4,380.1 624.2,381.7 627.1,383.5 629.9,381.8 632.8,375.6 635.7,369.2 638.5,364.6 641.4,365.1 644.2,365.8 647.1,369.1 649.9,370.4 652.8,375.8 655.6,380.9 658.5,382.7 661.4,383.1 664.2,383.2 667.1,383.1 669.9,383.4 672.8,385.9 675.6,388.0 678.5,389.3 681.3,386.7 684.2,386.2 687.1,387.6 689.9,390.0 692.8,391.5 695.6,390.5 698.5,392.3 701.3,394.6 704.2,396.4 707.0,400.7 709.9,407.3 712.8,413.0 715.6,417.8 718.5,420.4 721.3,418.6 724.2,420.7 727.0,422.2 729.9,425.2 732.7,424.4 735.6,423.4 738.5,422.1 741.3,420.2 744.2,417.2 747.0,415.7 749.9,416.6 752.7,422.0 755.6,427.5 758.4,433.0 761.3,438.7 764.2,440.8 767.0,444.1 769.9,447.4 772.7,448.6 775.6,451.8 778.4,450.4 781.3,451.1 784.1,450.3 787.0,447.8 789.9,440.6 792.7,428.8 795.6,419.8 798.4,411.9 801.3,402.8 804.1,396.5 807.0,391.0 809.8,389.3 812.7,385.7 815.6,381.4 818.4,379.6 821.3,378.4 824.1,372.0 827.0,367.1 829.8,363.3 832.7,363.1 835.6,366.5 838.4,366.2 841.3,363.3 844.1,359.3 847.0,353.9 849.8,347.5 852.7,340.4 855.5,337.8 858.4,336.0 861.3,332.4 864.1,330.2 867.0,327.9 869.8,325.4 872.7,325.7 875.5,325.4 878.4,325.2 881.2,326.3 884.1,324.7 887.0,325.4 889.8,330.9 892.7,335.9 895.5,338.4 898.4,339.8 901.2,338.9 904.1,344.3 906.9,350.8 909.8,358.5 912.7,365.4 915.5,372.6 918.4,380.8 921.2,388.1 924.1,392.7 926.9,394.6 929.8,394.1 932.6,392.3 935.5,392.7 938.4,390.3 941.2,387.2 944.1,384.9 946.9,381.0 949.8,380.5 952.6,381.9 955.5,380.9 958.3,378.0 961.2,376.0 964.1,373.9 966.9,369.4 969.8,365.8 972.6,363.9 975.5,365.6 978.3,364.7 981.2,363.2 984.0,363.1 986.9,361.1 989.8,360.3 992.6,360.9 995.5,361.9 998.3,363.1 1001.2,366.8 1004.0,368.1 1006.9,367.2 1009.7,365.3 1012.6,364.9 1015.5,361.6 1018.3,359.0 1021.2,356.6 1024.0,351.9 1026.9,346.3 1029.7,343.5 1032.6,343.4 1035.5,344.4 1038.3,345.8 1041.2,344.7 1044.0,345.5 1046.9,347.0 1049.7,348.2 1052.6,347.9 1055.4,347.1 1058.3,347.7 1061.2,348.1 1064.0,351.0 1066.9,353.7 1069.7,353.5 1072.6,351.2 1075.4,347.9 1078.3,343.7 1081.1,340.8 1084.0,337.0 1086.9,335.3 1089.7,335.1 1092.6,332.0 1095.4,331.7 1098.3,331.8 1101.1,332.1 1104.0,331.6 1106.8,329.4 1109.7,329.3 1112.6,328.6 1115.4,326.9 1118.3,326.8 1121.1,327.7 1124.0,328.2 1126.8,328.5 1129.7,331.4 1132.5,332.9 1135.4,334.6 1138.3,335.6 1141.1,338.0 1144.0,341.1 1146.8,345.1 1149.7,347.8 1152.5,351.5 1155.4,355.8 1158.2,360.0 1161.1,364.6 1164.0,368.0 1166.8,373.4 1169.7,376.1 1172.5,379.4 1175.4,381.7 1178.2,383.4 1181.1,385.9 1183.9,388.3 1186.8,388.9 1189.7,387.9 1192.5,386.3 1195.4,384.6 1198.2,383.8 1201.1,384.8 1203.9,384.8 1206.8,384.1 1209.6,384.0 1212.5,381.7 1215.4,380.8 1218.2,377.6 1221.1,373.7 1223.9,369.4 1226.8,366.7 1229.6,364.7 1232.5,361.3 1235.3,356.8 1238.2,353.0 1241.1,349.8 1243.9,346.5 1246.8,346.6 1249.6,346.0 1252.5,345.1 1255.3,343.3 1258.2,344.0 1261.1,344.7 1263.9,345.3 1266.8,347.0 1269.6,347.5 1272.5,348.0 1275.3,348.9 1278.2,350.0 1281.0,350.2 1283.9,348.8 1286.8,344.5 1289.6,341.1 1292.5,333.8 1295.3,326.6 1298.2,322.1 1301.0,316.2 1303.9,310.9 1306.7,307.5 1309.6,302.4 1312.5,294.2 1315.3,286.4 1318.2,279.1 1321.0,272.5 1323.9,268.6 1326.7,266.7 1329.6,263.3 1332.4,261.4 1335.3,258.9 1338.2,258.9 1341.0,258.8 1343.9,256.7 1346.7,254.9 1349.6,257.0 1352.4,258.8 1355.3,260.3 1358.1,261.2 1361.0,262.2" fill="none" stroke="#9575e0" stroke-width="1.3" stroke-linejoin="round" clip-path="url(#pc)"/>
<clipPath id="rlo"><rect x="0" y="528.5" width="1536" height="100"/></clipPath><clipPath id="rhi"><rect x="0" y="480" width="1536" height="48.5"/></clipPath>
<polyline points="10.0,531.5 13.0,536.0 16.0,532.0 19.0,527.5 21.0,537.5 24.0,540.0 27.0,539.0 29.0,532.0 32.0,545.0 36.0,550.0 40.0,555.0 44.0,550.0 47.0,549.0 50.0,540.0 55.0,535.0 58.0,538.0 62.0,537.5 66.0,535.0 70.0,525.0 75.0,520.0 78.0,516.0 80.0,538.0 83.0,537.0 87.0,532.5 91.0,530.0 95.0,533.75 98.0,535.0 101.0,545.0 104.0,549.0 108.0,535.0 112.0,528.75 116.0,525.0 120.0,518.75 124.0,507.5 126.0,511.0 129.0,510.0 133.0,520.0 136.0,528.0 138.0,555.0 141.0,557.5 144.0,557.5 146.0,551.0 149.0,557.0 152.0,545.0 156.0,541.0 158.0,540.0 161.0,550.0 164.0,555.0 167.0,548.0 170.0,553.0 173.0,566.0 176.0,565.0 179.0,569.0 182.0,562.5 186.0,557.5 190.0,549.0 195.0,551.0 199.0,550.0 201.0,545.0 204.0,553.0 207.0,553.75 210.0,560.0 215.0,560.0 218.0,566.0 221.0,561.0 224.0,562.5 227.0,560.0 230.0,566.0 233.0,573.0 236.0,572.0 238.0,573.0 241.0,564.0 244.0,567.0 247.0,561.0 250.0,570.0 253.0,565.0 256.0,568.0 262.0,567.0 264.0,560.0 267.0,562.5 270.0,560.0 272.0,558.75 275.0,549.0 280.0,541.0 284.0,533.75 289.0,533.75 292.0,532.5 295.0,540.0 298.0,550.0 301.0,555.0 304.0,560.0 307.0,548.0 309.0,552.5 312.0,546.0 315.0,555.0 319.0,559.0 322.0,563.0 325.0,567.0 330.0,567.0 333.0,565.0 336.0,560.0 338.0,565.0 341.0,562.0 344.0,562.0 346.0,576.0 350.0,581.0 354.0,582.0 357.0,580.0 361.0,571.0 364.0,574.0 367.0,578.75 370.0,595.0 372.0,601.0 375.0,588.0 378.0,583.75 381.0,590.0 384.0,595.0 387.0,588.0 391.0,588.75 395.0,588.0 396.0,586.0 400.0,597.5 403.0,601.0 405.0,600.0 407.0,588.0 410.0,584.0 413.0,576.0 417.0,578.75 420.0,571.0 423.0,562.5 427.0,561.0 430.0,562.0 433.0,573.75 436.0,572.5 439.0,575.0 443.0,580.0 446.0,570.0 450.0,562.5 453.0,568.75 456.0,573.0 459.0,573.0 462.0,579.0 465.0,578.0 468.0,581.0 470.0,579.0 472.0,583.75 476.0,580.0 480.0,571.0 483.0,570.0 487.0,565.0 489.0,570.0 492.0,562.5 495.0,552.5 499.0,551.0 502.0,548.0 506.0,539.0 508.0,553.75 512.0,561.0 515.0,560.0 518.0,556.0 521.0,561.0 524.0,559.0 527.0,561.0 530.0,563.75 533.0,562.0 536.0,561.0 538.0,573.0 541.0,572.5 545.0,561.0 547.0,553.0 551.0,552.5 554.0,550.0 555.0,546.75 558.0,556.0 561.0,557.5 564.0,561.0 567.0,556.0 570.0,558.75 573.0,565.0 576.0,564.0 579.0,570.0 582.0,580.0 585.0,582.5 588.0,582.0 589.0,587.0 592.0,575.0 595.0,569.0 597.0,571.0 600.0,583.75 603.0,583.0 606.0,575.0 609.0,573.75 612.0,580.0 615.0,571.0 618.0,562.5 621.0,569.0 625.0,568.75 627.0,571.0 630.0,560.0 633.0,546.0 636.0,544.0 639.0,546.0 642.0,557.5 645.0,561.0 648.0,566.0 650.0,564.0 653.0,572.5 656.0,575.0 659.0,566.0 662.0,563.75 666.0,563.75 668.0,561.0 671.0,562.5 673.0,568.0 677.0,569.0 680.0,566.0 681.0,554.0 684.0,560.0 688.0,566.0 690.0,569.0 693.0,565.0 696.0,559.0 699.0,567.0 702.0,569.0 705.0,570.0 708.0,580.0 711.0,585.0 714.0,586.0 717.0,582.5 720.0,574.0 721.0,561.0 724.0,567.5 727.0,571.0 730.0,574.0 733.0,563.75 735.0,561.0 738.0,563.75 741.0,556.0 743.0,553.0 746.0,556.0 749.0,563.75 752.0,576.0 756.0,577.5 759.0,579.0 761.0,582.0 764.0,572.5 768.0,575.0 771.0,574.0 773.0,577.5 775.0,566.0 778.0,570.0 781.0,566.0 784.0,556.0 787.0,543.75 792.0,531.0 797.0,536.0 800.0,530.0 804.0,534.0 806.0,533.0 809.0,545.0 813.0,541.0 815.0,540.0 819.0,542.0 822.0,542.0 823.0,531.0 827.0,532.5 830.0,540.0 834.0,557.5 837.0,548.0 841.0,541.0 845.0,536.0 849.0,530.0 852.0,528.0 855.0,539.0 858.0,541.0 860.0,536.0 863.0,541.0 866.0,541.0 869.0,540.0 872.0,546.0 876.0,545.0 880.0,551.0 883.0,544.75 887.0,560.0 890.0,567.5 893.0,568.75 896.0,563.75 899.0,561.0 901.0,554.0 904.0,572.5 907.0,578.0 910.0,580.0 913.0,582.0 916.0,585.0 919.0,588.0 921.0,588.0 924.0,580.0 927.0,572.0 931.0,564.0 934.0,566.75 937.0,559.0 940.0,554.75 943.0,555.0 947.0,550.0 950.0,556.0 952.0,564.0 955.0,558.0 958.0,552.5 962.0,552.0 964.0,550.0 967.0,543.0 970.0,545.0 973.0,550.0 976.0,561.0 979.0,562.0 982.0,553.75 986.0,550.0 987.0,547.5 991.0,551.0 994.0,555.0 997.0,557.0 1000.0,562.5 1002.0,569.0 1006.0,560.0 1009.0,553.75 1012.0,551.0 1014.0,555.0 1015.0,546.0 1019.0,546.0 1022.0,545.0 1024.0,536.0 1027.0,533.0 1030.0,540.0 1032.0,551.0 1035.0,556.0 1038.0,558.0 1040.0,550.0 1043.0,556.0 1046.0,558.75 1049.0,560.0 1052.0,558.0 1055.0,552.5 1059.0,555.0 1061.0,557.5 1064.0,568.75 1067.0,563.75 1071.0,552.5 1074.0,545.0 1077.0,540.0 1080.0,542.0 1084.0,538.0 1087.0,547.5 1090.0,551.0 1093.0,542.0 1095.0,549.0 1099.0,551.0 1102.0,551.0 1104.0,554.0 1106.0,545.0 1110.0,552.5 1113.0,550.0 1116.0,547.5 1118.0,550.0 1121.0,556.0 1124.0,559.0 1126.0,557.5 1129.0,567.5 1132.0,563.75 1135.0,566.25 1138.0,565.0 1141.0,572.0 1144.0,575.0 1147.0,579.0 1149.0,578.75 1152.0,582.0 1155.0,585.0 1158.0,588.0 1161.0,590.0 1163.0,591.0 1166.0,597.0 1169.0,583.75 1172.0,586.0 1175.0,587.5 1178.0,588.0 1181.0,583.75 1183.0,587.0 1186.0,579.0 1189.0,569.0 1193.0,562.5 1195.0,560.0 1198.0,561.0 1201.0,571.0 1203.0,566.0 1206.0,564.0 1209.0,565.0 1211.0,551.0 1215.0,557.0 1218.0,546.0 1220.0,539.0 1223.0,537.5 1227.0,536.25 1229.0,542.0 1232.0,535.0 1235.0,530.0 1237.0,532.0 1240.0,530.0 1244.0,527.5 1247.0,549.0 1250.0,545.0 1253.0,544.0 1256.0,541.0 1258.0,553.0 1262.0,553.0 1265.0,561.0 1268.0,556.0 1271.0,560.0 1274.0,556.0 1277.0,560.0 1280.0,556.0 1283.0,545.0 1286.0,534.0 1289.0,533.75 1291.0,518.75 1294.0,517.5 1297.0,523.75 1300.0,520.0 1303.0,518.75 1306.0,523.75 1309.0,520.0 1312.0,511.0 1315.0,509.0 1318.0,508.75 1321.0,513.0 1324.0,522.5 1327.0,528.0 1329.0,524.0 1331.0,531.0 1334.0,530.0 1336.0,538.75 1339.0,537.5 1342.0,535.0 1344.0,532.5 1347.0,553.0 1350.0,551.0 1353.0,552.5 1356.0,552.5 1361.0,554.0" fill="none" stroke="#f2733a" stroke-width="1.1" stroke-linejoin="round" clip-path="url(#rlo)"/>
<polyline points="10.0,531.5 13.0,536.0 16.0,532.0 19.0,527.5 21.0,537.5 24.0,540.0 27.0,539.0 29.0,532.0 32.0,545.0 36.0,550.0 40.0,555.0 44.0,550.0 47.0,549.0 50.0,540.0 55.0,535.0 58.0,538.0 62.0,537.5 66.0,535.0 70.0,525.0 75.0,520.0 78.0,516.0 80.0,538.0 83.0,537.0 87.0,532.5 91.0,530.0 95.0,533.75 98.0,535.0 101.0,545.0 104.0,549.0 108.0,535.0 112.0,528.75 116.0,525.0 120.0,518.75 124.0,507.5 126.0,511.0 129.0,510.0 133.0,520.0 136.0,528.0 138.0,555.0 141.0,557.5 144.0,557.5 146.0,551.0 149.0,557.0 152.0,545.0 156.0,541.0 158.0,540.0 161.0,550.0 164.0,555.0 167.0,548.0 170.0,553.0 173.0,566.0 176.0,565.0 179.0,569.0 182.0,562.5 186.0,557.5 190.0,549.0 195.0,551.0 199.0,550.0 201.0,545.0 204.0,553.0 207.0,553.75 210.0,560.0 215.0,560.0 218.0,566.0 221.0,561.0 224.0,562.5 227.0,560.0 230.0,566.0 233.0,573.0 236.0,572.0 238.0,573.0 241.0,564.0 244.0,567.0 247.0,561.0 250.0,570.0 253.0,565.0 256.0,568.0 262.0,567.0 264.0,560.0 267.0,562.5 270.0,560.0 272.0,558.75 275.0,549.0 280.0,541.0 284.0,533.75 289.0,533.75 292.0,532.5 295.0,540.0 298.0,550.0 301.0,555.0 304.0,560.0 307.0,548.0 309.0,552.5 312.0,546.0 315.0,555.0 319.0,559.0 322.0,563.0 325.0,567.0 330.0,567.0 333.0,565.0 336.0,560.0 338.0,565.0 341.0,562.0 344.0,562.0 346.0,576.0 350.0,581.0 354.0,582.0 357.0,580.0 361.0,571.0 364.0,574.0 367.0,578.75 370.0,595.0 372.0,601.0 375.0,588.0 378.0,583.75 381.0,590.0 384.0,595.0 387.0,588.0 391.0,588.75 395.0,588.0 396.0,586.0 400.0,597.5 403.0,601.0 405.0,600.0 407.0,588.0 410.0,584.0 413.0,576.0 417.0,578.75 420.0,571.0 423.0,562.5 427.0,561.0 430.0,562.0 433.0,573.75 436.0,572.5 439.0,575.0 443.0,580.0 446.0,570.0 450.0,562.5 453.0,568.75 456.0,573.0 459.0,573.0 462.0,579.0 465.0,578.0 468.0,581.0 470.0,579.0 472.0,583.75 476.0,580.0 480.0,571.0 483.0,570.0 487.0,565.0 489.0,570.0 492.0,562.5 495.0,552.5 499.0,551.0 502.0,548.0 506.0,539.0 508.0,553.75 512.0,561.0 515.0,560.0 518.0,556.0 521.0,561.0 524.0,559.0 527.0,561.0 530.0,563.75 533.0,562.0 536.0,561.0 538.0,573.0 541.0,572.5 545.0,561.0 547.0,553.0 551.0,552.5 554.0,550.0 555.0,546.75 558.0,556.0 561.0,557.5 564.0,561.0 567.0,556.0 570.0,558.75 573.0,565.0 576.0,564.0 579.0,570.0 582.0,580.0 585.0,582.5 588.0,582.0 589.0,587.0 592.0,575.0 595.0,569.0 597.0,571.0 600.0,583.75 603.0,583.0 606.0,575.0 609.0,573.75 612.0,580.0 615.0,571.0 618.0,562.5 621.0,569.0 625.0,568.75 627.0,571.0 630.0,560.0 633.0,546.0 636.0,544.0 639.0,546.0 642.0,557.5 645.0,561.0 648.0,566.0 650.0,564.0 653.0,572.5 656.0,575.0 659.0,566.0 662.0,563.75 666.0,563.75 668.0,561.0 671.0,562.5 673.0,568.0 677.0,569.0 680.0,566.0 681.0,554.0 684.0,560.0 688.0,566.0 690.0,569.0 693.0,565.0 696.0,559.0 699.0,567.0 702.0,569.0 705.0,570.0 708.0,580.0 711.0,585.0 714.0,586.0 717.0,582.5 720.0,574.0 721.0,561.0 724.0,567.5 727.0,571.0 730.0,574.0 733.0,563.75 735.0,561.0 738.0,563.75 741.0,556.0 743.0,553.0 746.0,556.0 749.0,563.75 752.0,576.0 756.0,577.5 759.0,579.0 761.0,582.0 764.0,572.5 768.0,575.0 771.0,574.0 773.0,577.5 775.0,566.0 778.0,570.0 781.0,566.0 784.0,556.0 787.0,543.75 792.0,531.0 797.0,536.0 800.0,530.0 804.0,534.0 806.0,533.0 809.0,545.0 813.0,541.0 815.0,540.0 819.0,542.0 822.0,542.0 823.0,531.0 827.0,532.5 830.0,540.0 834.0,557.5 837.0,548.0 841.0,541.0 845.0,536.0 849.0,530.0 852.0,528.0 855.0,539.0 858.0,541.0 860.0,536.0 863.0,541.0 866.0,541.0 869.0,540.0 872.0,546.0 876.0,545.0 880.0,551.0 883.0,544.75 887.0,560.0 890.0,567.5 893.0,568.75 896.0,563.75 899.0,561.0 901.0,554.0 904.0,572.5 907.0,578.0 910.0,580.0 913.0,582.0 916.0,585.0 919.0,588.0 921.0,588.0 924.0,580.0 927.0,572.0 931.0,564.0 934.0,566.75 937.0,559.0 940.0,554.75 943.0,555.0 947.0,550.0 950.0,556.0 952.0,564.0 955.0,558.0 958.0,552.5 962.0,552.0 964.0,550.0 967.0,543.0 970.0,545.0 973.0,550.0 976.0,561.0 979.0,562.0 982.0,553.75 986.0,550.0 987.0,547.5 991.0,551.0 994.0,555.0 997.0,557.0 1000.0,562.5 1002.0,569.0 1006.0,560.0 1009.0,553.75 1012.0,551.0 1014.0,555.0 1015.0,546.0 1019.0,546.0 1022.0,545.0 1024.0,536.0 1027.0,533.0 1030.0,540.0 1032.0,551.0 1035.0,556.0 1038.0,558.0 1040.0,550.0 1043.0,556.0 1046.0,558.75 1049.0,560.0 1052.0,558.0 1055.0,552.5 1059.0,555.0 1061.0,557.5 1064.0,568.75 1067.0,563.75 1071.0,552.5 1074.0,545.0 1077.0,540.0 1080.0,542.0 1084.0,538.0 1087.0,547.5 1090.0,551.0 1093.0,542.0 1095.0,549.0 1099.0,551.0 1102.0,551.0 1104.0,554.0 1106.0,545.0 1110.0,552.5 1113.0,550.0 1116.0,547.5 1118.0,550.0 1121.0,556.0 1124.0,559.0 1126.0,557.5 1129.0,567.5 1132.0,563.75 1135.0,566.25 1138.0,565.0 1141.0,572.0 1144.0,575.0 1147.0,579.0 1149.0,578.75 1152.0,582.0 1155.0,585.0 1158.0,588.0 1161.0,590.0 1163.0,591.0 1166.0,597.0 1169.0,583.75 1172.0,586.0 1175.0,587.5 1178.0,588.0 1181.0,583.75 1183.0,587.0 1186.0,579.0 1189.0,569.0 1193.0,562.5 1195.0,560.0 1198.0,561.0 1201.0,571.0 1203.0,566.0 1206.0,564.0 1209.0,565.0 1211.0,551.0 1215.0,557.0 1218.0,546.0 1220.0,539.0 1223.0,537.5 1227.0,536.25 1229.0,542.0 1232.0,535.0 1235.0,530.0 1237.0,532.0 1240.0,530.0 1244.0,527.5 1247.0,549.0 1250.0,545.0 1253.0,544.0 1256.0,541.0 1258.0,553.0 1262.0,553.0 1265.0,561.0 1268.0,556.0 1271.0,560.0 1274.0,556.0 1277.0,560.0 1280.0,556.0 1283.0,545.0 1286.0,534.0 1289.0,533.75 1291.0,518.75 1294.0,517.5 1297.0,523.75 1300.0,520.0 1303.0,518.75 1306.0,523.75 1309.0,520.0 1312.0,511.0 1315.0,509.0 1318.0,508.75 1321.0,513.0 1324.0,522.5 1327.0,528.0 1329.0,524.0 1331.0,531.0 1334.0,530.0 1336.0,538.75 1339.0,537.5 1342.0,535.0 1344.0,532.5 1347.0,553.0 1350.0,551.0 1353.0,552.5 1356.0,552.5 1361.0,554.0" fill="none" stroke="#f5982c" stroke-width="1.1" stroke-linejoin="round" clip-path="url(#rhi)"/>
<path d="M255 513.75H310M266 503.75L255.5 513.75L266 524.25" stroke="#1414f0" stroke-width="1.8" fill="none"/>
<path d="M1223.75 510.5H1283.5M1273.75 501.25L1283.5 510.5L1273.75 521.75" stroke="#1414f0" stroke-width="1.8" fill="none"/>
<path d="M7.5 47.5H1528.5V636.5H7.5Z" fill="none" stroke="#7a7a7a" stroke-width="1.3"/>
<path d="M8 501H1476" stroke="#9a9a9a" stroke-width="2"/>
<path d="M8 608.5H1528.5" stroke="#555" stroke-width="1.2"/>
<path d="M1476.5 48V636" stroke="#666" stroke-width="1.2"/>
<path d="M1476 56.5H1481M1476 91.5H1481M1476 130.5H1481M1476 169.5H1481M1476 212.5H1481M1476 248.5H1481M1476 286.5H1481M1476 324.5H1481M1476 356.5H1481M1476 389.5H1481M1476 426.5H1481M1476 456.5H1481M1476 488.5H1481M1476 513.5H1481M1476 543.5H1481M1476 573.5H1481M1476 603.5H1481M33.5 608V612M182.5 608V612M333.5 608V612M481.5 608V612M630.5 608V612M778.5 608V612M927.5 608V612M1076.5 608V612M1228.5 608V612M1375.5 608V612" stroke="#555" stroke-width="1"/>
<rect x="1476.5" y="261" width="51.5" height="17.3" fill="#6aa27a"/>
<text x="1486.3" y="60.5" font-family="Liberation Sans, sans-serif" font-size="11" fill="#5d5d5d" textLength="34.7" lengthAdjust="spacingAndGlyphs" text-anchor="start">190.00</text>
<text x="1486.3" y="95.5" font-family="Liberation Sans, sans-serif" font-size="11" fill="#5d5d5d" textLength="34.7" lengthAdjust="spacingAndGlyphs" text-anchor="start">180.00</text>
<text x="1486.3" y="134.5" font-family="Liberation Sans, sans-serif" font-size="11" fill="#5d5d5d" textLength="34.7" lengthAdjust="spacingAndGlyphs" text-anchor="start">170.00</text>
<text x="1486.3" y="173.5" font-family="Liberation Sans, sans-serif" font-size="11" fill="#5d5d5d" textLength="34.7" lengthAdjust="spacingAndGlyphs" text-anchor="start">160.00</text>
<text x="1486.3" y="216.5" font-family="Liberation Sans, sans-serif" font-size="11" fill="#5d5d5d" textLength="34.7" lengthAdjust="spacingAndGlyphs" text-anchor="start">150.00</text>
<text x="1486.3" y="252.5" font-family="Liberation Sans, sans-serif" font-size="11" fill="#5d5d5d" textLength="34.7" lengthAdjust="spacingAndGlyphs" text-anchor="start">142.00</text>
<text x="1486.3" y="290.5" font-family="Liberation Sans, sans-serif" font-size="11" fill="#5d5d5d" textLength="34.7" lengthAdjust="spacingAndGlyphs" text-anchor="start">134.00</text>
<text x="1486.3" y="328.5" font-family="Liberation Sans, sans-serif" font-size="11" fill="#5d5d5d" textLength="34.7" lengthAdjust="spacingAndGlyphs" text-anchor="start">126.50</text>
<text x="1486.3" y="360.5" font-family="Liberation Sans, sans-serif" font-size="11" fill="#5d5d5d" textLength="34.7" lengthAdjust="spacingAndGlyphs" text-anchor="start">120.50</text>
<text x="1486.3" y="393.5" font-family="Liberation Sans, sans-serif" font-size="11" fill="#5d5d5d" textLength="34.7" lengthAdjust="spacingAndGlyphs" text-anchor="start">114.50</text>
<text x="1486.3" y="430.5" font-family="Liberation Sans, sans-serif" font-size="11" fill="#5d5d5d" textLength="34.7" lengthAdjust="spacingAndGlyphs" text-anchor="start">108.50</text>
<text x="1486.3" y="460.5" font-family="Liberation Sans, sans-serif" font-size="11" fill="#5d5d5d" textLength="34.7" lengthAdjust="spacingAndGlyphs" text-anchor="start">103.50</text>
<text x="1486.3" y="492.5" font-family="Liberation Sans, sans-serif" font-size="11" fill="#5d5d5d" textLength="28.5" lengthAdjust="spacingAndGlyphs" text-anchor="start">98.50</text>
<text x="1486.3" y="517.0" font-family="Liberation Sans, sans-serif" font-size="11" fill="#5d5d5d" textLength="34.7" lengthAdjust="spacingAndGlyphs" text-anchor="start">80.00</text>
<text x="1486.3" y="547.0" font-family="Liberation Sans, sans-serif" font-size="11" fill="#5d5d5d" textLength="34.7" lengthAdjust="spacingAndGlyphs" text-anchor="start">60.00</text>
<text x="1486.3" y="577.0" font-family="Liberation Sans, sans-serif" font-size="11" fill="#5d5d5d" textLength="34.7" lengthAdjust="spacingAndGlyphs" text-anchor="start">40.00</text>
<text x="1486.3" y="607.0" font-family="Liberation Sans, sans-serif" font-size="11" fill="#5d5d5d" textLength="34.7" lengthAdjust="spacingAndGlyphs" text-anchor="start">20.00</text>
<text x="1486.3" y="273.8" font-family="Liberation Sans, sans-serif" font-size="11" fill="#ffffff" font-weight="bold" textLength="34.7" lengthAdjust="spacingAndGlyphs" text-anchor="start">137.59</text>
<text x="33.5" y="628" font-family="Liberation Sans, sans-serif" font-size="11" fill="#4a4a4a" font-weight="bold" textLength="25" lengthAdjust="spacingAndGlyphs" text-anchor="middle">2011</text>
<text x="182.5" y="628" font-family="Liberation Sans, sans-serif" font-size="11" fill="#4a4a4a" font-weight="bold" textLength="25" lengthAdjust="spacingAndGlyphs" text-anchor="middle">2012</text>
<text x="333.5" y="628" font-family="Liberation Sans, sans-serif" font-size="11" fill="#4a4a4a" font-weight="bold" textLength="25" lengthAdjust="spacingAndGlyphs" text-anchor="middle">2013</text>
<text x="481.5" y="628" font-family="Liberation Sans, sans-serif" font-size="11" fill="#4a4a4a" font-weight="bold" textLength="25" lengthAdjust="spacingAndGlyphs" text-anchor="middle">2014</text>
<text x="630.5" y="628" font-family="Liberation Sans, sans-serif" font-size="11" fill="#4a4a4a" font-weight="bold" textLength="25" lengthAdjust="spacingAndGlyphs" text-anchor="middle">2015</text>
<text x="778.5" y="628" font-family="Liberation Sans, sans-serif" font-size="11" fill="#4a4a4a" font-weight="bold" textLength="25" lengthAdjust="spacingAndGlyphs" text-anchor="middle">2016</text>
<text x="927.5" y="628" font-family="Liberation Sans, sans-serif" font-size="11" fill="#4a4a4a" font-weight="bold" textLength="25" lengthAdjust="spacingAndGlyphs" text-anchor="middle">2017</text>
<text x="1076.5" y="628" font-family="Liberation Sans, sans-serif" font-size="11" fill="#4a4a4a" font-weight="bold" textLength="25" lengthAdjust="spacingAndGlyphs" text-anchor="middle">2018</text>
<text x="1228.5" y="628" font-family="Liberation Sans, sans-serif" font-size="11" fill="#4a4a4a" font-weight="bold" textLength="25" lengthAdjust="spacingAndGlyphs" text-anchor="middle">2019</text>
<text x="1375.5" y="628" font-family="Liberation Sans, sans-serif" font-size="11" fill="#4a4a4a" font-weight="bold" textLength="25" lengthAdjust="spacingAndGlyphs" text-anchor="middle">2020</text>
<text x="405.25" y="136.8" font-family="Liberation Sans, sans-serif" font-size="12.6" fill="#f38a2a" textLength="78.75" lengthAdjust="spacingAndGlyphs" stroke="#f38a2a" stroke-width="0.25" text-anchor="start">0.786(167.53)</text>
<text x="405.25" y="195.6" font-family="Liberation Sans, sans-serif" font-size="12.6" fill="#dd4a52" textLength="78.75" lengthAdjust="spacingAndGlyphs" stroke="#dd4a52" stroke-width="0.25" text-anchor="start">0.618(153.14)</text>
<text x="412.75" y="240" font-family="Liberation Sans, sans-serif" font-size="12.6" fill="#38c538" textLength="65" lengthAdjust="spacingAndGlyphs" stroke="#38c538" stroke-width="0.25" text-anchor="start">0.5(143.04)</text>
<text x="767" y="68" font-family="Liberation Sans, sans-serif" font-size="12.6" fill="#5b5fd9" textLength="79.25" lengthAdjust="spacingAndGlyphs" stroke="#5b5fd9" stroke-width="0.25" text-anchor="start">2.618(187.94)</text>
<text x="767" y="107" font-family="Liberation Sans, sans-serif" font-size="12.6" fill="#92cf52" textLength="79.25" lengthAdjust="spacingAndGlyphs" stroke="#92cf52" stroke-width="0.25" text-anchor="start">2.272(177.24)</text>
<text x="767" y="187" font-family="Liberation Sans, sans-serif" font-size="12.6" fill="#e04a9f" textLength="79.25" lengthAdjust="spacingAndGlyphs" stroke="#e04a9f" stroke-width="0.25" text-anchor="start">1.618(157.02)</text>
<text x="768" y="233.1" font-family="Liberation Sans, sans-serif" font-size="12.6" fill="#7db87d" textLength="78" lengthAdjust="spacingAndGlyphs" stroke="#7db87d" stroke-width="0.25" text-anchor="start">1.272(146.33)</text>
<text x="1161.5" y="167.4" font-family="Liberation Sans, sans-serif" font-size="12.6" fill="#5b5fd9" textLength="78.5" lengthAdjust="spacingAndGlyphs" stroke="#5b5fd9" stroke-width="0.25" text-anchor="start">2.618(161.82)</text>
<text x="1161.5" y="190.4" font-family="Liberation Sans, sans-serif" font-size="12.6" fill="#92cf52" textLength="78.5" lengthAdjust="spacingAndGlyphs" stroke="#92cf52" stroke-width="0.25" text-anchor="start">2.272(156.23)</text>
<text x="1161.5" y="236.2" font-family="Liberation Sans, sans-serif" font-size="12.6" fill="#e04a9f" textLength="78.5" lengthAdjust="spacingAndGlyphs" stroke="#e04a9f" stroke-width="0.25" text-anchor="start">1.618(145.67)</text>
<text x="16" y="70" font-family="Liberation Sans, sans-serif" font-size="13" fill="#555555" font-weight="bold" textLength="340" lengthAdjust="spacingAndGlyphs" text-anchor="start">SPDR GOLD TRUST GOLD SHARES NPV, 1W, Cboe BZX</text>
<text x="16" y="87.5" font-family="Liberation Sans, sans-serif" font-size="13" fill="#666666" textLength="95.5" lengthAdjust="spacingAndGlyphs" text-anchor="start">EMA (12, close)</text>
<text x="16" y="105" font-family="Liberation Sans, sans-serif" font-size="13" fill="#666666" textLength="95.5" lengthAdjust="spacingAndGlyphs" text-anchor="start">EMA (34, close)</text>
<text x="16" y="523.5" font-family="Liberation Sans, sans-serif" font-size="13" fill="#666666" textLength="86" lengthAdjust="spacingAndGlyphs" text-anchor="start">RSI (14, close)</text>
<text x="7.6" y="18.3" font-family="Liberation Sans, sans-serif" font-size="13" fill="#2f8fe8" font-weight="bold" textLength="112" lengthAdjust="spacingAndGlyphs" text-anchor="start">BrucePowersCMT</text>
<text x="124" y="18.3" font-family="Liberation Sans, sans-serif" font-size="13" fill="#222222" textLength="397.4" lengthAdjust="spacingAndGlyphs" text-anchor="start">published on TradingView.com, December 08, 2019 14:53:31 -04</text>
<text x="7.6" y="37" font-family="Liberation Sans, sans-serif" font-size="13" fill="#1a1a1a" font-weight="bold" textLength="90.7" lengthAdjust="spacingAndGlyphs" text-anchor="start">BATS:GLD, 1W</text>
<text x="104.7" y="37" font-family="Liberation Sans, sans-serif" font-size="13" fill="#333333" textLength="41.1" lengthAdjust="spacingAndGlyphs" text-anchor="start">137.59</text>
<path d="M150 29.7H160.2L155.1 36.6Z" fill="#ef5350"/>
<text x="165" y="37" font-family="Liberation Sans, sans-serif" font-size="13" fill="#333333" textLength="92.6" lengthAdjust="spacingAndGlyphs" text-anchor="start">−1.41 (−1.01%)</text>
<text x="261.7" y="37" font-family="Liberation Sans, sans-serif" font-size="13" fill="#1a1a1a" font-weight="bold" textLength="13.5" lengthAdjust="spacingAndGlyphs" text-anchor="start">O:</text>
<text x="276.8" y="37" font-family="Liberation Sans, sans-serif" font-size="13" fill="#ef5350" textLength="41.4" lengthAdjust="spacingAndGlyphs" text-anchor="start">137.32</text>
<text x="323.7" y="37" font-family="Liberation Sans, sans-serif" font-size="13" fill="#1a1a1a" font-weight="bold" textLength="13.6" lengthAdjust="spacingAndGlyphs" text-anchor="start">H:</text>
<text x="338.5" y="37" font-family="Liberation Sans, sans-serif" font-size="13" fill="#ef5350" textLength="41.2" lengthAdjust="spacingAndGlyphs" text-anchor="start">139.57</text>
<text x="385.3" y="37" font-family="Liberation Sans, sans-serif" font-size="13" fill="#1a1a1a" font-weight="bold" textLength="10.7" lengthAdjust="spacingAndGlyphs" text-anchor="start">L:</text>
<text x="396.9" y="37" font-family="Liberation Sans, sans-serif" font-size="13" fill="#ef5350" textLength="42.1" lengthAdjust="spacingAndGlyphs" text-anchor="start">137.30</text>
<text x="443.75" y="37" font-family="Liberation Sans, sans-serif" font-size="13" fill="#1a1a1a" font-weight="bold" textLength="12.5" lengthAdjust="spacingAndGlyphs" text-anchor="start">C:</text>
<text x="457.3" y="37" font-family="Liberation Sans, sans-serif" font-size="13" fill="#ef5350" textLength="42.4" lengthAdjust="spacingAndGlyphs" text-anchor="start">137.59</text>
<text x="7.1" y="662.2" font-family="Liberation Sans, sans-serif" font-size="13" fill="#222222" textLength="79.4" lengthAdjust="spacingAndGlyphs" text-anchor="start">Created with</text>
<text x="120.4" y="662.2" font-family="Liberation Sans, sans-serif" font-size="13" fill="#3196ef" textLength="74.9" lengthAdjust="spacingAndGlyphs" text-anchor="start">TradingView</text>
<g fill="#2196f3"><path d="M91 662.5C89 661 89.5 656.5 93 655.5C94 650 99 647.5 103 648.5C106 649 108 651 109 653C112.5 652.5 114 654 114.5 656C117.5 657 118 661.5 116 663.5C115 664 113 664 112 664H94C92.5 664 91.5 663.5 91 662.5Z"/></g>
<path d="M91.3 661.4L100.4 654.1L107.1 660.7L113.5 653.5" stroke="#ffffff" stroke-width="1.2" fill="none"/><circle cx="100.4" cy="654.1" r="1.5" fill="#fff"/><circle cx="107.1" cy="660.7" r="1.5" fill="#fff"/>
</svg>
</body></html>
